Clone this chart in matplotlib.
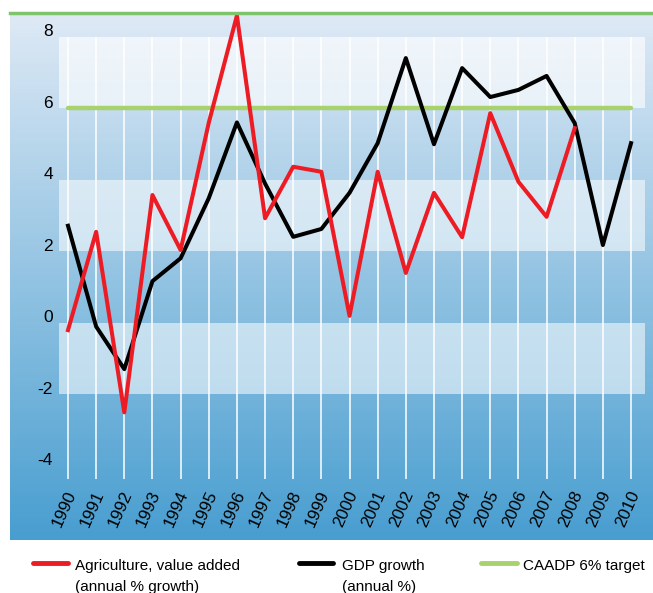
import numpy as np
import matplotlib
matplotlib.use("Agg")
import matplotlib.pyplot as plt
from matplotlib.lines import Line2D

# datos
anios = list(range(1990, 2011))
agricultura = [-0.2, 2.55, -2.5, 3.58, 2.04, 5.6, 8.6, 2.93, 4.37, 4.23, 0.2,
               4.23, 1.4, 3.64, 2.4, 5.87, 3.95, 2.97, 5.45]
pib = [2.72, -0.1, -1.29, 1.17, 1.81, 3.49, 5.61, 3.9, 2.41, 2.63, 3.64,
       5.03, 7.41, 5.0, 7.13, 6.32, 6.52, 6.91, 5.59, 2.18, 5.03]
meta_caadp = 6
ticks_y = [8, 6, 4, 2, 0, -2, -4]
etiquetas = ['Agriculture, value added\n(annual % growth)',
             'GDP growth\n(annual %)',
             'CAADP 6% target']

W, H = 653, 593
fig = plt.figure(figsize=(W / 100, H / 100), dpi=100)

# área del gráfico (en píxeles de la imagen)
x0, x1, y_top, y_bot = 10, 653, 15, 540
ax = fig.add_axes([x0 / W, (H - y_bot) / H, (x1 - x0) / W, (y_bot - y_top) / H])
ax.set_xlim(1987.94, 2010.78)
ax.set_ylim(-6.07, 8.615)
ax.axis('off')

# fondo en degradado
c_arriba = np.array([222, 233, 245]) / 255
c_abajo = np.array([72, 158, 208]) / 255
t = np.linspace(0, 1, 256)[:, None]
grad = (c_arriba * (1 - t) + c_abajo * t)[:, None, :]
ax.imshow(grad, extent=[1987.94, 2010.78, -6.07, 8.615], aspect='auto', zorder=0)

# bandas claras
xb = [1989.68, 2010.5]
for (a, b, al) in [(6, 8, 0.62), (2, 4, 0.55), (-2, 0, 0.55)]:
    ax.fill_between(xb, a, b, color='white', alpha=al, lw=0, zorder=1)

# líneas verticales
ax.vlines(anios, -4.36, 8, colors='white', lw=1.3, alpha=0.85, zorder=2)

ax.plot(anios, [meta_caadp] * len(anios), color='#a8d26b', lw=3.2,
        solid_capstyle='round', zorder=3)
ax.plot(anios, pib, color='black', lw=2.9, zorder=4)
ax.plot(anios[:len(agricultura)], agricultura, color='#ed1c24', lw=2.9, zorder=5)

# etiquetas del eje y
for v in ticks_y:
    ax.text(1989.47, v + 0.02, str(v), ha='right', va='baseline', fontsize=12.5,
            family='Liberation Sans', zorder=6)

# etiquetas de años
for a in anios:
    ax.text(a + 0.14, -4.72, str(a), ha='right', va='center', rotation=66,
            rotation_mode='anchor', fontsize=12.3, family='Liberation Sans', zorder=6)

# línea verde superior
fig.add_artist(Line2D([x0 / W, 1], [(H - 13) / H] * 2, color='#7dc46c', lw=2.5))

# leyenda manual
colores = ['#ed1c24', 'black', '#a8d26b']
manijas = [(33, 68, 75), (299, 333, 342), (481, 517, 523)]
for (h0, h1, tx), col, lab in zip(manijas, colores, etiquetas):
    fig.add_artist(Line2D([h0 / W, h1 / W], [(H - 563) / H] * 2, color=col, lw=3.5,
                          solid_capstyle='round'))
    for i, linea in enumerate(lab.split('\n')):
        fig.text(tx / W, (H - 570 - 21 * i) / H, linea, ha='left', va='baseline',
                 fontsize=11, family='Liberation Sans')

fig.savefig('out.png', dpi=100)
